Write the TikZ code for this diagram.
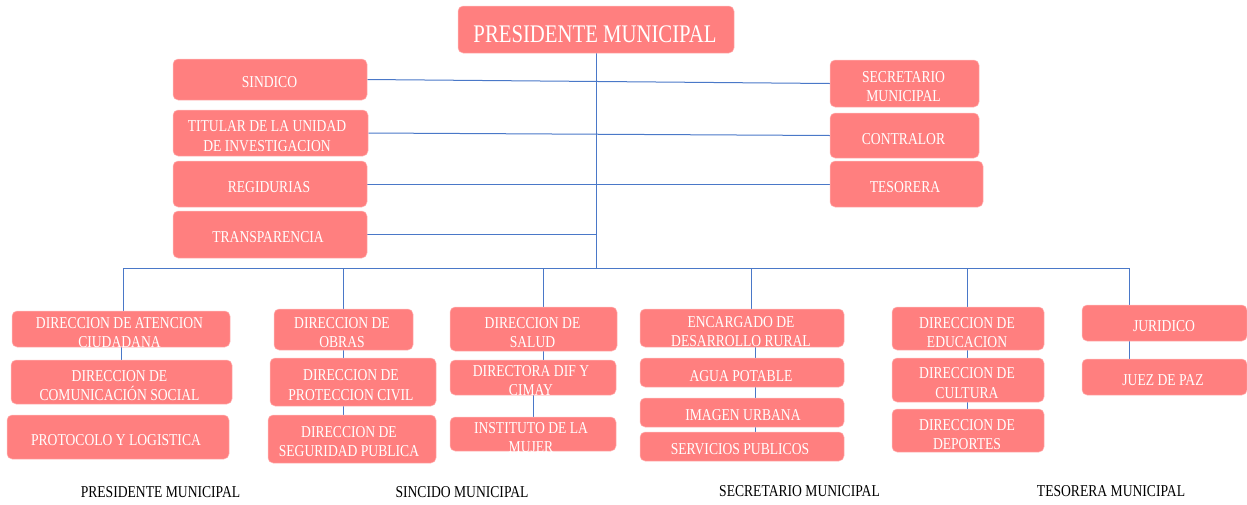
\documentclass[tikz,border=0pt]{standalone}
\usepackage{fontspec}
\setmainfont{Liberation Serif}
\newfontfamily\narrowserif[FakeStretch=0.82]{Liberation Serif}
\usetikzlibrary{fit,backgrounds}
\definecolor{boxred}{HTML}{FF7F7F}
\definecolor{boxedge}{HTML}{FFB8B8}
\definecolor{linkblue}{HTML}{4A78C8}
\tikzset{
  x=1pt,y=-1pt,
  boxst/.style={fill=boxred,draw=boxedge,line width=.5pt,rounded corners=5pt,inner sep=0pt},
  txt/.style={text=white,align=center,inner sep=0pt,font=\narrowserif\fontsize{16.6}{19.8}\selectfont},
  toptxt/.style={text=white,inner sep=0pt,font=\narrowserif\fontsize{25.3}{30}\selectfont},
  foot/.style={text=black,inner sep=0pt,font=\narrowserif\fontsize{16.6}{19.8}\selectfont},
  link/.style={draw=linkblue,line width=1pt}
}
\newcommand{\bx}[8]{%
  \node[boxst,fit={(#2,#3)(#4,#5)}] (#1) {};
  \node[txt] (#1-t) at (#6,#7) {#8};
}
\begin{document}
\begin{tikzpicture}
\useasboundingbox (0,0) rectangle (1247,504);
% top
\node[boxst,fit={(458,6)(734,53)}] (pres) {};
\node[toptxt] (pres-t) at (595,34.5) {PRESIDENTE MUNICIPAL};
\bx{sindico}{173}{59}{367}{100}{269.5}{82.5}{SINDICO}
\bx{titular}{173}{110}{368}{156}{267}{136}{TITULAR DE LA UNIDAD\\DE INVESTIGACION}
\bx{regi}{173}{161}{367}{207}{269}{187.5}{REGIDURIAS}
\bx{transp}{173}{211}{367}{258}{268}{237.5}{TRANSPARENCIA}
\bx{secre}{830}{60}{979}{107}{903.5}{86.5}{SECRETARIO\\MUNICIPAL}
\bx{contra}{830}{113}{979}{158}{903.5}{139}{CONTRALOR}
\bx{tesor}{830}{161}{983}{207}{905}{187.5}{TESORERA}
% column 1
\bx{attn}{12}{311}{230}{347}{119.5}{332.5}{DIRECCION DE ATENCION\\CIUDADANA}
\bx{comu}{11}{360}{232}{404}{119.5}{385.5}{DIRECCION DE\\COMUNICACIÓN SOCIAL}
\bx{proto}{7}{415}{229}{459}{116}{440.5}{PROTOCOLO Y LOGISTICA}
% column 2
\bx{obras}{274}{309}{413}{350}{342}{332.5}{DIRECCION DE\\OBRAS}
\bx{civil}{270}{358}{436}{406}{351}{385.5}{DIRECCION DE\\PROTECCION CIVIL}
\bx{segur}{268}{415}{436}{463}{349}{441.5}{DIRECCION DE\\SEGURIDAD PUBLICA}
% column 3
\bx{salud}{450}{307}{617}{351}{532.5}{332.5}{DIRECCION DE\\SALUD}
\bx{dif}{450}{360}{616}{395}{531}{380.5}{DIRECTORA DIF Y\\CIMAY}
\bx{inst}{450}{417}{616}{451}{531}{437.5}{INSTITUTO DE LA\\MUJER}
% column 4
\bx{rural}{640}{309}{844}{347}{741}{331.5}{ENCARGADO DE\\DESARROLLO RURAL}
\bx{agua}{640}{358}{844}{387}{741}{376}{AGUA POTABLE}
\bx{imagen}{640}{398}{844}{427}{743}{415.5}{IMAGEN URBANA}
\bx{serv}{640}{432}{844}{461}{740}{449.5}{SERVICIOS PUBLICOS}
% column 5
\bx{edu}{892}{307}{1044}{350}{967}{332.5}{DIRECCION DE\\EDUCACION}
\bx{cult}{892}{358}{1044}{402}{967}{383}{DIRECCION DE\\CULTURA}
\bx{dep}{892}{409}{1044}{452}{967}{434.5}{DIRECCION DE\\DEPORTES}
% column 6
\bx{jur}{1082}{305}{1247}{341}{1164}{326.5}{JURIDICO}
\bx{juez}{1082}{359}{1247}{395}{1163}{380.5}{JUEZ DE PAZ}
% footer
\node[foot] (f1) at (160.5,492.5) {PRESIDENTE MUNICIPAL};
\node[foot] (f2) at (462,492.5) {SINCIDO MUNICIPAL};
\node[foot] (f3) at (799.5,491.5) {SECRETARIO MUNICIPAL};
\node[foot] (f4) at (1111,491.5) {TESORERA MUNICIPAL};
% connectors
\coordinate (hub) at (596,268);
\coordinate (b1) at (123.5,268);
\coordinate (b2) at (343,268);
\coordinate (b3) at (543,268);
\coordinate (b4) at (751,268);
\coordinate (b5) at (967,268);
\coordinate (b6) at (1129.5,268);
\coordinate (k1) at (121,350);
\coordinate (k2) at (343,350);
\coordinate (k3) at (543,350);
\coordinate (k3b) at (533,395);
\coordinate (k4) at (755.5,350);
\coordinate (k6) at (1129.5,341);
\begin{pgfonlayer}{background}
\draw[link] (pres.south) -- (hub);
\draw[link] (b1 |- attn.north) -- (b1) -- (b6) -- (b6 |- jur.north);
\draw[link] (b2) -- (b2 |- obras.north);
\draw[link] (b3) -- (b3 |- salud.north);
\draw[link] (b4) -- (b4 |- rural.north);
\draw[link] (b5) -- (b5 |- edu.north);
\draw[link] (sindico.east) -- (secre.west);
\draw[link] (titular.east) -- (contra.west);
\draw[link] (regi.east) -- (tesor.west);
\draw[link] (transp.east) -- (transp.east -| hub);
\draw[link] (k1 |- attn.south) -- (k1 |- comu.north);
\draw[link] (k2 |- obras.south) -- (k2 |- civil.north);
\draw[link] (k2 |- civil.south) -- (k2 |- segur.north);
\draw[link] (k3 |- salud.south) -- (k3 |- dif.north);
\draw[link] (k3b |- dif.south) -- (k3b |- inst.north);
\draw[link] (k4 |- rural.south) -- (k4 |- agua.north);
\draw[link] (k4 |- agua.south) -- (k4 |- imagen.north);
\draw[link] (k4 |- imagen.south) -- (k4 |- serv.north);
\draw[link] (b5 |- edu.south) -- (b5 |- cult.north);
\draw[link] (b5 |- cult.south) -- (b5 |- dep.north);
\draw[link] (k6 |- jur.south) -- (k6 |- juez.north);
\end{pgfonlayer}
\end{tikzpicture}
\end{document}
